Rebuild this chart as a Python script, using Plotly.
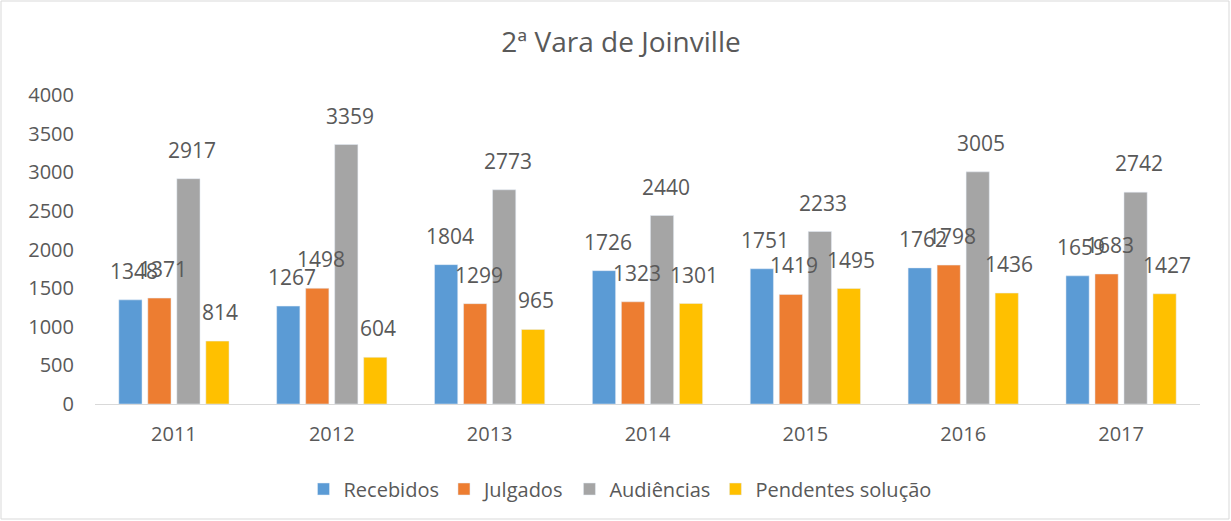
import plotly.graph_objects as go

years = ["2011", "2012", "2013", "2014", "2015", "2016", "2017"]
recebidos = [1348, 1267, 1804, 1726, 1751, 1762, 1659]
julgados = [1371, 1498, 1299, 1323, 1419, 1798, 1683]
audiencias = [2917, 3359, 2773, 2440, 2233, 3005, 2742]
pendentes = [814, 604, 965, 1301, 1495, 1436, 1427]

series = [
    ("Recebidos", recebidos, "#5B9BD5"),
    ("Julgados", julgados, "#ED7D31"),
    ("Audiências", audiencias, "#A5A5A5"),
    ("Pendentes solução", pendentes, "#FFC000"),
]
label_offsets = [-40, -11, 18, 46]  # px offset of each series' label within a group

fig = go.Figure()
for (name, vals, color), dx in zip(series, label_offsets):
    fig.add_trace(go.Bar(x=years, y=vals, name=name, marker_color=color))
    for i, v in enumerate(vals):
        # category index i corresponds to years[i]
        fig.add_annotation(x=i, y=v, text=str(v), showarrow=False, xshift=dx, yshift=13,
                           yanchor="bottom", font=dict(size=21, color="#595959"))

W, H = 1231, 521
ml, mr, mt, mb = 95, 31, 95, 117
pw, ph = W - ml - mr, H - mt - mb

fig.update_layout(
    width=W, height=H,
    margin=dict(l=ml, r=mr, t=mt, b=mb, autoexpand=False),
    paper_bgcolor="white", plot_bgcolor="white",
    font=dict(family="Open Sans, Liberation Sans, sans-serif", color="#595959"),
    title=dict(text="2ª Vara de Joinville", x=(621 - ml) / pw, xref="paper", xanchor="center",
               y=1 - 42 / H, yanchor="middle", font=dict(size=28, color="#595959")),
    barmode="group", bargap=0.265, bargroupgap=0.2,
    showlegend=True,
    legend=dict(orientation="h", x=(620 - ml) / pw, xanchor="center", y=-(489 - 404) / ph, yanchor="middle",
                font=dict(size=20, color="#595959"), itemwidth=30, traceorder="normal"),
    xaxis=dict(type="category", range=[-0.5, len(years) - 0.5], showline=True, linecolor="#D9D9D9",
               ticks="", tickfont=dict(size=20, color="#595959"), ticklabelstandoff=12, automargin=False),
    yaxis=dict(range=[0, 4000], dtick=500, showgrid=False, zeroline=False, showline=False,
               tickfont=dict(size=20, color="#595959"), ticklabelstandoff=20, automargin=False),
)

fig.add_shape(type="rect", xref="paper", yref="paper",
              x0=(1 - ml) / pw, x1=(W - 2 - ml) / pw,
              y0=(mt + ph - (H - 2)) / ph, y1=(mt + ph - 1) / ph,
              line=dict(color="#D9D9D9", width=1), layer="below")

fig.write_html("out.html", config={"displayModeBar": False},
               post_script="document.body.style.margin='0';")
